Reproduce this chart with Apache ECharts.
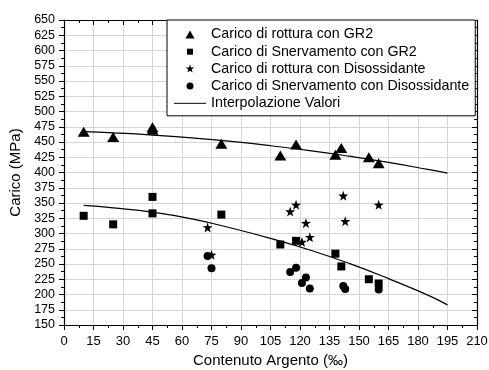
<!DOCTYPE html>
<html><head><meta charset="utf-8">
<script src="https://cdn.jsdelivr.net/npm/echarts@6/dist/echarts.min.js"></script>
<style>html,body{margin:0;padding:0;background:#fff}#c{width:489px;height:370px}</style>
</head><body><div id="c"></div>
<script>
// ---- data ----
const rotturaGR2 = [[10,467],[25,458],[45,474],[45,470],[80,447],[110,428],[118,446],[138,429],[141,440],[155,425],[160,415]];
const snervGR2 = [[10,329],[25,315],[45,360],[45,333],[80,331],[110,282],[118,288],[138,267],[141,246],[155,225],[160,218]];
const rotturaDis = [[73,310],[75,265],[115,336],[118,347],[121,286],[123,317],[125,294],[142,362],[143,320],[160,347]];
const snervDis = [[73,263],[75,243],[115,237],[118,244],[121,219],[123,228],[125,210],[142,214],[143,209],[160,208]];
const fitX = [10,25,45,65,85,105,125,145,165,185,195];
const fitRottura = [467,465,461.4,456.7,450.9,443.9,435.9,426.7,416.5,405.1,399];
const fitSnerv = [346,342,335,324,309,292,273,251,226,199,183];
const names = ['Carico di rottura con GR2','Carico di Snervamento con GR2','Carico di rottura con Disossidante','Carico di Snervamento con Disossidante','Interpolazione Valori'];
const xRange = {min:0, max:210, step:15};
const yRange = {min:150, max:650, step:25};
const xTitle = 'Contenuto Argento (‰)';
const yTitle = 'Carico (MPa)';

const font = '"Liberation Sans", Arial, sans-serif';
const starPath = 'path://M10,0L12.35,6.76L19.51,6.91L13.8,11.24L15.88,18.09L10,14L4.12,18.09L6.2,11.24L0.49,6.91L7.65,6.76Z';
const pad = 'M0,0M32,10';
const icons = [
  'path://' + pad + 'M16,1L20.6,9L11.4,9Z',
  'path://' + pad + 'M13,2H19V8H13Z',
  'path://' + pad + 'M16,0.5L17.06,3.54L20.28,3.61L17.71,5.56L18.65,8.64L16,6.8L13.35,8.64L14.29,5.56L11.72,3.61L14.94,3.54Z',
  'path://' + pad + 'M12.5,5A3.5,3.5,0,1,1,19.5,5A3.5,3.5,0,1,1,12.5,5Z',
  'path://' + pad + 'M0,4.5H32V5.5H0Z'
];
function pairs(xs, ys){ return xs.map((x,i)=>[x, ys[i]]); }

const black = '#000';
function axis(r, pos, main, fs, margin){
  return {
    type:'value', min:r.min, max:r.max, interval:r.step, position:pos,
    axisLine:{show:true, onZero:false, lineStyle:{color:black, width:1.2}},
    axisTick:{show:true, inside:!main, length:5, lineStyle:{color:black, width:1}},
    minorTick:{show:true, splitNumber:2, length:3, lineStyle:{color:black, width:1}},
    axisLabel:{show:main, color:black, fontSize:fs, fontFamily:font, margin:margin},
    splitLine:{show:main, lineStyle:{color:'#d6d6d6', width:1}},
    minorSplitLine:{show:false}
  };
}
const xMain = axis(xRange,'bottom',true,13,10);
Object.assign(xMain,{name:xTitle, nameLocation:'middle', nameGap:24, nameTextStyle:{fontSize:15, color:black, fontFamily:font}});
const yMain = axis(yRange,'left',true,12.5,9);
Object.assign(yMain,{name:yTitle, nameLocation:'middle', nameGap:38, nameTextStyle:{fontSize:15, color:black, fontFamily:font}});

const mk = {color:black, opacity:1};
const chart = echarts.init(document.getElementById('c'), null, {renderer:'canvas'});
chart.setOption({
  animation:false,
  backgroundColor:'#fff',
  textStyle:{fontFamily:font},
  grid:{left:64, right:12, top:20, bottom:45, containLabel:false, outerBoundsMode:'none'},
  xAxis:[xMain, axis(xRange,'top',false,12,8)],
  yAxis:[yMain, axis(yRange,'right',false,12,8)],
  legend:{
    orient:'vertical', left:167, top:20,
    backgroundColor:'#fff', borderColor:black, borderWidth:1, borderRadius:0,
    padding:[7,6,5,7], itemWidth:32, itemHeight:10, itemGap:2.2,
    textStyle:{fontSize:14.3, color:black, fontFamily:font, lineHeight:15},
    data: names.map((n,i)=>({name:n, icon:icons[i]}))
  },
  series:[
    {name:names[0], type:'scatter', data:rotturaGR2, symbol:'triangle', symbolSize:[12,10], itemStyle:mk},
    {name:names[1], type:'scatter', data:snervGR2, symbol:'rect', symbolSize:8, itemStyle:mk},
    {name:names[2], type:'scatter', data:rotturaDis, symbol:starPath, symbolSize:10, itemStyle:mk},
    {name:names[3], type:'scatter', data:snervDis, symbol:'circle', symbolSize:8, itemStyle:mk},
    {name:names[4], type:'line', data:pairs(fitX, fitRottura), showSymbol:false, symbol:'none', smooth:true, color:black, lineStyle:{color:black, width:1.2}},
    {name:names[4], type:'line', data:pairs(fitX, fitSnerv), showSymbol:false, symbol:'none', smooth:true, color:black, lineStyle:{color:black, width:1.2}}
  ]
});
</script></body></html>
